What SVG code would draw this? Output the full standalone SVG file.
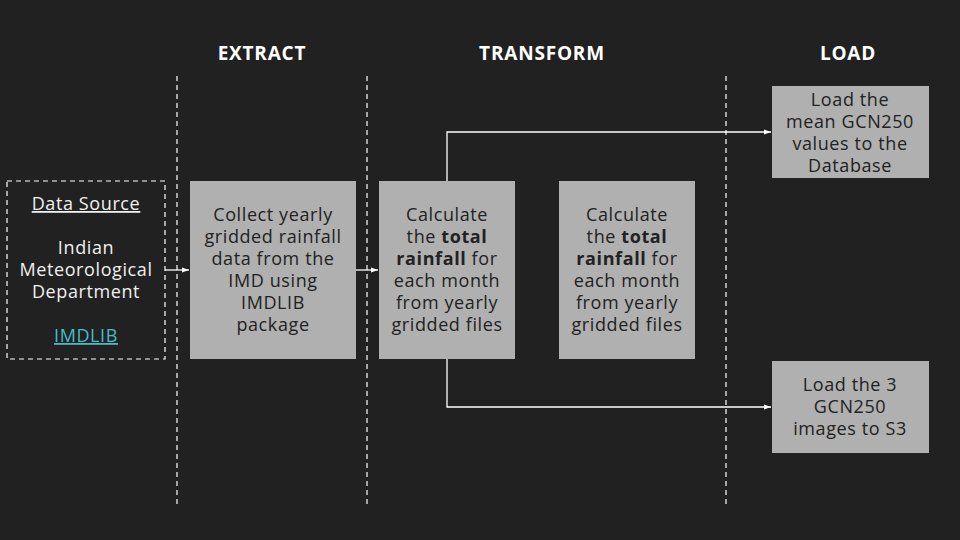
<svg xmlns="http://www.w3.org/2000/svg" width="960" height="540" viewBox="0 0 960 540">
<style>
text{font-family:"Open Sans","Noto Sans","Liberation Sans",sans-serif;font-size:18px;letter-spacing:0.6px;text-anchor:middle}
.h{font-weight:bold;fill:#fff;font-size:19px;letter-spacing:0.8px}
.box{fill:#b0b0b0}
.bt{fill:#222}
.wt{fill:#f0f0f0}
.b{font-weight:bold}
.div{stroke:#fff;stroke-width:1.2;stroke-dasharray:5,4}
.c{stroke:#fff;stroke-width:1.3;fill:none}
</style>
<defs>
<marker id="ah" markerWidth="8" markerHeight="8" refX="7" refY="4" orient="auto" markerUnits="userSpaceOnUse">
<path d="M0,1.5 L7,4 L0,6.5 Z" fill="#fff"/>
</marker>
</defs>
<rect width="960" height="540" fill="#212121"/>
<g id="headers">
<text class="h" x="262" y="60">EXTRACT</text>
<text class="h" x="542" y="60">TRANSFORM</text>
<text class="h" x="848" y="60">LOAD</text>
</g>
<g id="dividers">
<line class="div" x1="177" y1="76" x2="177" y2="506"/>
<line class="div" x1="367" y1="76" x2="367" y2="506"/>
<line class="div" x1="726" y1="76" x2="726" y2="506"/>
</g>
<g id="connectors">
<line class="c" x1="165" y1="270" x2="189" y2="270" marker-end="url(#ah)"/>
<line class="c" x1="356" y1="270" x2="378" y2="270" marker-end="url(#ah)"/>
<polyline class="c" points="447,181 447,132 771,132" marker-end="url(#ah)"/>
<polyline class="c" points="447,359 447,407 771,407" marker-end="url(#ah)"/>
</g>
<g id="source">
<rect x="7" y="181" width="158" height="178" fill="none" stroke="#fff" stroke-width="1.2" stroke-dasharray="5,4"/>
<text class="wt" x="86" y="210" text-decoration="underline">Data Source</text>
<text class="wt" x="86" y="254">Indian</text>
<text class="wt" x="86" y="276">Meteorological</text>
<text class="wt" x="86" y="298">Department</text>
<text x="86" y="342" fill="#46bdc6" text-decoration="underline">IMDLIB</text>
</g>
<g id="collect">
<rect class="box" x="190" y="181" width="166" height="178"/>
<text class="bt" x="273" y="221">Collect yearly</text>
<text class="bt" x="273" y="243">gridded rainfall</text>
<text class="bt" x="273" y="265">data from the</text>
<text class="bt" x="273" y="287">IMD using</text>
<text class="bt" x="273" y="309">IMDLIB</text>
<text class="bt" x="273" y="331">package</text>
</g>
<g id="calc1">
<rect class="box" x="379" y="181" width="136" height="178"/>
<text class="bt" x="447" y="221">Calculate</text>
<text class="bt" x="447" y="243">the <tspan class="b">total</tspan></text>
<text class="bt" x="447" y="265"><tspan class="b">rainfall</tspan> for</text>
<text class="bt" x="447" y="287">each month</text>
<text class="bt" x="447" y="309">from yearly</text>
<text class="bt" x="447" y="331">gridded files</text>
</g>
<g id="calc2">
<rect class="box" x="559" y="181" width="136" height="178"/>
<text class="bt" x="627" y="221">Calculate</text>
<text class="bt" x="627" y="243">the <tspan class="b">total</tspan></text>
<text class="bt" x="627" y="265"><tspan class="b">rainfall</tspan> for</text>
<text class="bt" x="627" y="287">each month</text>
<text class="bt" x="627" y="309">from yearly</text>
<text class="bt" x="627" y="331">gridded files</text>
</g>
<g id="load1">
<rect class="box" x="772" y="86" width="157" height="92"/>
<text class="bt" x="850" y="106">Load the</text>
<text class="bt" x="850" y="128">mean GCN250</text>
<text class="bt" x="850" y="150">values to the</text>
<text class="bt" x="850" y="172">Database</text>
</g>
<g id="load2">
<rect class="box" x="772" y="361" width="157" height="92"/>
<text class="bt" x="850" y="391">Load the 3</text>
<text class="bt" x="850" y="413">GCN250</text>
<text class="bt" x="850" y="435">images to S3</text>
</g>
</svg>
